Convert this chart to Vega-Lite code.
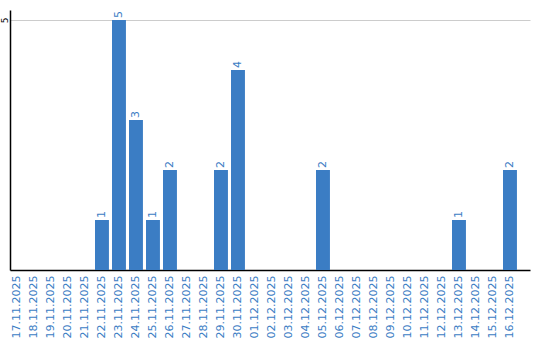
{
  "$schema": "https://vega.github.io/schema/vega-lite/v6.json",
  "autosize": "none",
  "width": 520,
  "height": 260,
  "padding": {"left": 10, "top": 10, "right": 10, "bottom": 70},
  "config": {"view": {"stroke": null}, "font": "DejaVu Sans"},
  "data": {"values": [
    {"date": "17.11.2025", "value": 0},
    {"date": "18.11.2025", "value": 0},
    {"date": "19.11.2025", "value": 0},
    {"date": "20.11.2025", "value": 0},
    {"date": "21.11.2025", "value": 0},
    {"date": "22.11.2025", "value": 1},
    {"date": "23.11.2025", "value": 5},
    {"date": "24.11.2025", "value": 3},
    {"date": "25.11.2025", "value": 1},
    {"date": "26.11.2025", "value": 2},
    {"date": "27.11.2025", "value": 0},
    {"date": "28.11.2025", "value": 0},
    {"date": "29.11.2025", "value": 2},
    {"date": "30.11.2025", "value": 4},
    {"date": "01.12.2025", "value": 0},
    {"date": "02.12.2025", "value": 0},
    {"date": "03.12.2025", "value": 0},
    {"date": "04.12.2025", "value": 0},
    {"date": "05.12.2025", "value": 2},
    {"date": "06.12.2025", "value": 0},
    {"date": "07.12.2025", "value": 0},
    {"date": "08.12.2025", "value": 0},
    {"date": "09.12.2025", "value": 0},
    {"date": "10.12.2025", "value": 0},
    {"date": "11.12.2025", "value": 0},
    {"date": "12.12.2025", "value": 0},
    {"date": "13.12.2025", "value": 1},
    {"date": "14.12.2025", "value": 0},
    {"date": "15.12.2025", "value": 0},
    {"date": "16.12.2025", "value": 2}
  ]},
  "encoding": {
    "x": {
      "field": "date", "type": "ordinal", "sort": null,
      "scale": {"paddingInner": 0.18, "paddingOuter": 0.384, "align": 0},
      "axis": {
        "title": null, "labelAngle": -90, "labelColor": "#3b7dc4", "labelFontSize": 11,
        "ticks": false, "domainColor": "#000000", "domainWidth": 1.5, "labelPadding": 5,
        "labelAlign": "right", "labelBaseline": "middle"
      }
    },
    "y": {
      "field": "value", "type": "quantitative",
      "scale": {"domain": [0, 5.2], "nice": false},
      "axis": {
        "title": null, "values": [5], "ticks": false, "domainColor": "#000000", "domainWidth": 1.5,
        "gridColor": "#cccccc", "labelAngle": -90, "labelFontSize": 9, "labelColor": "#000000",
        "labelPadding": 3, "labelAlign": "center", "labelBaseline": "alphabetic"
      }
    }
  },
  "layer": [
    {"mark": {"type": "bar", "color": "#3b7dc4"}},
    {
      "transform": [{"filter": "datum.value > 0"}],
      "mark": {"type": "text", "angle": -90, "align": "left", "baseline": "middle", "dx": 2, "fontSize": 11, "color": "#3b7dc4"},
      "encoding": {"text": {"field": "value", "type": "quantitative"}}
    }
  ]
}
